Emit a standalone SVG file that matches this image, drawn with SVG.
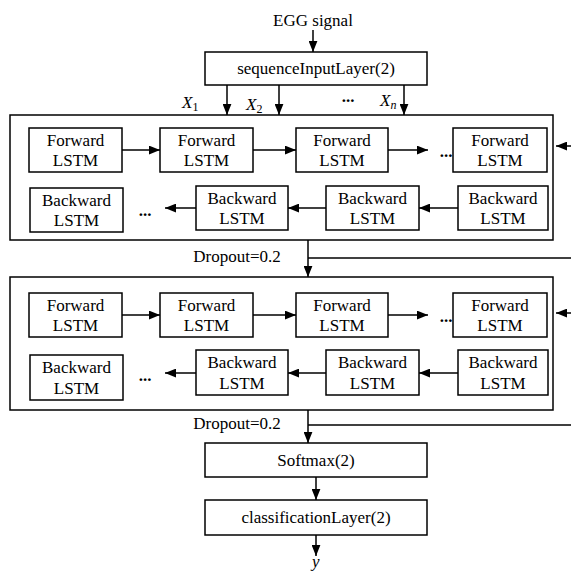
<svg xmlns="http://www.w3.org/2000/svg" width="571" height="572" viewBox="0 0 571 572">
<style>
.b{fill:#fff;stroke:#000;stroke-width:1.5}
.t{font-family:"Liberation Serif","Times New Roman",Times,"DejaVu Serif",serif;font-size:17px;fill:#000;text-anchor:middle}
.d{font-family:"Liberation Serif","Times New Roman",Times,"DejaVu Serif",serif;font-size:17px;font-weight:bold;fill:#000;text-anchor:middle}
.i{font-family:"Liberation Serif","Times New Roman",Times,"DejaVu Serif",serif;font-size:17px;font-style:italic;fill:#000}
.s{font-size:12px;font-style:normal}
.si{font-size:12px;font-style:italic}
.c{stroke:#000;stroke-width:1.5;fill:none}
.a{stroke:#000;stroke-width:1.5;fill:none;marker-end:url(#ah)}
</style>
<defs>
<marker id="ah" viewBox="0 0 10 8" refX="10" refY="4" markerUnits="userSpaceOnUse" markerWidth="11" markerHeight="9" orient="auto">
<path d="M0,0L10,4L0,8z" fill="#000"/>
</marker>
</defs>
<rect width="571" height="572" fill="#fff"/>
<g id="block1"><rect class="b" x="10" y="115" width="543" height="125"/></g>
<g id="block2"><rect class="b" x="10" y="277" width="543" height="133"/></g>
<g id="input"><text class="t" x="313" y="26">EGG signal</text></g>
<g id="seq"><rect class="b" x="205" y="52" width="222" height="33"/><text class="t" x="316" y="74">sequenceInputLayer(2)</text></g>
<g id="labels">
<text class="i" x="182" y="108">X<tspan class="s" dy="3">1</tspan></text>
<text class="i" x="246" y="110">X<tspan class="s" dy="3">2</tspan></text>
<text class="d" x="348" y="102">...</text>
<text class="i" x="380" y="106">X<tspan class="si" dy="3">n</tspan></text>
<text class="t" x="237" y="262">Dropout=0.2</text>
<text class="t" x="237" y="429">Dropout=0.2</text>
<text class="d" x="446" y="157">...</text>
<text class="d" x="145" y="216">...</text>
<text class="d" x="446" y="322">...</text>
<text class="d" x="145" y="381">...</text>
</g>
<g id="f11"><rect class="b" x="29" y="128" width="93" height="44"/><text class="t" x="75.5" y="146">Forward</text><text class="t" x="75.5" y="166">LSTM</text></g>
<g id="f12"><rect class="b" x="160" y="128" width="93" height="44"/><text class="t" x="206.5" y="146">Forward</text><text class="t" x="206.5" y="166">LSTM</text></g>
<g id="f13"><rect class="b" x="296" y="128" width="92" height="44"/><text class="t" x="342" y="146">Forward</text><text class="t" x="342" y="166">LSTM</text></g>
<g id="f14"><rect class="b" x="453" y="128" width="94" height="44"/><text class="t" x="500" y="146">Forward</text><text class="t" x="500" y="166">LSTM</text></g>
<g id="b11"><rect class="b" x="30" y="188" width="93" height="44"/><text class="t" x="76.5" y="206">Backward</text><text class="t" x="76.5" y="226">LSTM</text></g>
<g id="b12"><rect class="b" x="196" y="186" width="92" height="44"/><text class="t" x="242" y="204">Backward</text><text class="t" x="242" y="224">LSTM</text></g>
<g id="b13"><rect class="b" x="326" y="186" width="93" height="44"/><text class="t" x="372.5" y="204">Backward</text><text class="t" x="372.5" y="224">LSTM</text></g>
<g id="b14"><rect class="b" x="458" y="186" width="90" height="44"/><text class="t" x="503" y="204">Backward</text><text class="t" x="503" y="224">LSTM</text></g>
<g id="f21"><rect class="b" x="29" y="293" width="93" height="44"/><text class="t" x="75.5" y="311">Forward</text><text class="t" x="75.5" y="331">LSTM</text></g>
<g id="f22"><rect class="b" x="160" y="293" width="93" height="44"/><text class="t" x="206.5" y="311">Forward</text><text class="t" x="206.5" y="331">LSTM</text></g>
<g id="f23"><rect class="b" x="296" y="293" width="92" height="44"/><text class="t" x="342" y="311">Forward</text><text class="t" x="342" y="331">LSTM</text></g>
<g id="f24"><rect class="b" x="453" y="293" width="94" height="44"/><text class="t" x="500" y="311">Forward</text><text class="t" x="500" y="331">LSTM</text></g>
<g id="b21"><rect class="b" x="30" y="355" width="93" height="45"/><text class="t" x="76.5" y="373">Backward</text><text class="t" x="76.5" y="394">LSTM</text></g>
<g id="b22"><rect class="b" x="196" y="350" width="92" height="45"/><text class="t" x="242" y="368">Backward</text><text class="t" x="242" y="389">LSTM</text></g>
<g id="b23"><rect class="b" x="326" y="350" width="93" height="45"/><text class="t" x="372.5" y="368">Backward</text><text class="t" x="372.5" y="389">LSTM</text></g>
<g id="b24"><rect class="b" x="458" y="350" width="90" height="45"/><text class="t" x="503" y="368">Backward</text><text class="t" x="503" y="389">LSTM</text></g>
<g id="softmax"><rect class="b" x="205" y="443" width="222" height="34"/><text class="t" x="316" y="466">Softmax(2)</text></g>
<g id="cls"><rect class="b" x="205" y="500" width="222" height="35"/><text class="t" x="316" y="523">classificationLayer(2)</text></g>
<g id="output"><text class="i" x="312" y="567">y</text></g>
<g id="connectors">
<line class="a" x1="313" y1="30" x2="313" y2="52"/>
<line class="a" x1="227" y1="85" x2="227" y2="115"/>
<line class="a" x1="279" y1="85" x2="279" y2="115"/>
<line class="a" x1="404" y1="85" x2="404" y2="115"/>
<line class="a" x1="122" y1="150" x2="160" y2="150"/>
<line class="a" x1="253" y1="150" x2="296" y2="150"/>
<line class="a" x1="388" y1="150" x2="428" y2="150"/>
<line class="a" x1="571" y1="146" x2="556" y2="146"/>
<line class="a" x1="458" y1="208" x2="419" y2="208"/>
<line class="a" x1="326" y1="208" x2="288" y2="208"/>
<line class="a" x1="196" y1="208" x2="165" y2="208"/>
<line class="a" x1="308" y1="240" x2="308" y2="277"/>
<line class="c" x1="308" y1="258" x2="571" y2="258"/>
<line class="a" x1="122" y1="315" x2="160" y2="315"/>
<line class="a" x1="253" y1="315" x2="296" y2="315"/>
<line class="a" x1="388" y1="315" x2="428" y2="315"/>
<line class="a" x1="571" y1="313" x2="556" y2="313"/>
<line class="a" x1="458" y1="373" x2="419" y2="373"/>
<line class="a" x1="326" y1="373" x2="288" y2="373"/>
<line class="a" x1="196" y1="373" x2="165" y2="373"/>
<line class="a" x1="308" y1="410" x2="308" y2="443"/>
<line class="c" x1="308" y1="425" x2="571" y2="425"/>
<line class="a" x1="316" y1="477" x2="316" y2="500"/>
<line class="a" x1="316" y1="535" x2="316" y2="556"/>
</g>
</svg>
